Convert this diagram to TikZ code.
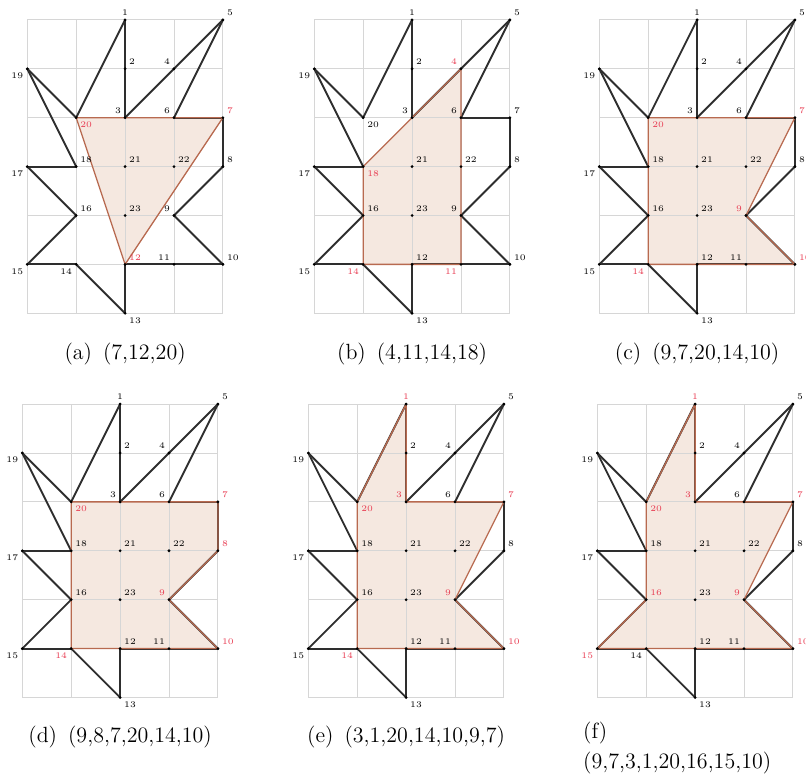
\documentclass[tikz,border=0pt]{standalone}
\usepackage{tikz}
\definecolor{gridgray}{RGB}{214,214,214}
\definecolor{cutfill}{RGB}{245,232,224}
\definecolor{cutline}{RGB}{184,106,80}
\definecolor{lblred}{RGB}{232,58,80}
\tikzset{
  gridln/.style={gridgray,line width=0.5pt},
  edge/.style={black!82,line width=1.1pt,line cap=round},
  cutarea/.style={fill=cutfill},
  cutedge/.style={draw=cutline,line width=0.75pt,line join=round},
  vtx/.style={circle,fill=black,inner sep=0pt,minimum size=1.8pt},
  lbl/.style={font=\fontsize{5}{6}\selectfont,inner sep=2.2pt},
  hl/.style={text=lblred},
  hilite/.style={lv#1/.style={hl}},
  captext/.style={font=\fontsize{12.8}{17.4}\selectfont,inner sep=0pt},
}
\newcommand{\leaf}[4]{% prefix, origin, sub-polygon, label tweaks
  \begin{scope}[shift={#2},hilite/.list={#3},#4]
    \foreach \i/\x/\y in {1/2/6,2/2/5,3/2/4,4/3/5,5/4/6,6/3/4,7/4/4,8/4/3,
      9/3/2,10/4/1,11/3/1,12/2/1,13/2/0,14/1/1,15/0/1,16/1/2,17/0/3,18/1/3,
      19/0/5,20/1/4,21/2/3,22/3/3,23/2/2}
      \coordinate (#1\i) at (\x,\y);
    % sub-polygon from its vertex list
    \foreach \k [count=\n] in {#3}{%
      \ifnum\n=1 \xdef\pth{(#1\k)}\else\xdef\pth{\pth--(#1\k)}\fi}
    \fill[cutarea] \pth -- cycle;
    \draw[gridln] (0,0) grid (4,6);
    \foreach \i [evaluate=\i as \j using {int(mod(\i,20)+1)}] in {1,...,20}
      \draw[edge] (#1\i) -- (#1\j);
    \draw[cutedge] \pth -- cycle;
    \foreach \i/\anc in {1/south,2/south west,3/south east,4/south east,
      5/south west,6/south east,7/south west,8/south west,9/south east,
      10/south west,11/south east,12/south west,13/north west,14/north east,
      15/north east,16/south west,17/north east,18/south west,19/north east,
      20/north west,21/south west,22/south west,23/south west}{
      \node[vtx] (#1d\i) at (#1\i) {};
      \node[lbl,anchor=\anc,lv\i/.try] (#1l\i) at (#1\i) {\i};
    }
  \end{scope}
}

\begin{document}
\begin{tikzpicture}
  \useasboundingbox (0,0) rectangle (16.483,15.951);
  \leaf{a}{(0.558,9.544)}{7,12,20}{}
  \leaf{b}{(6.427,9.544)}{4,11,14,18}{lv18/.append style={anchor=north west},lv11/.append style={anchor=north east}}
  \leaf{c}{(12.256,9.544)}{9,7,20,14,10}{}
  \leaf{d}{(0.456,1.687)}{9,8,7,20,14,10}{}
  \leaf{e}{(6.305,1.687)}{3,1,20,14,10,9,7}{}
  \leaf{f}{(12.215,1.687)}{9,7,3,1,20,16,15,10}{}
  % captions
  \node[captext] (capa) at (2.558,8.712) {(a)\enspace(7,12,20)};
  \node[captext] (capb) at (8.427,8.712) {(b)\enspace(4,11,14,18)};
  \node[captext] (capc) at (14.256,8.712) {(c)\enspace(9,7,20,14,10)};
  \node[captext] (capd) at (2.456,0.879) {(d)\enspace(9,8,7,20,14,10)};
  \node[captext] (cape) at (8.305,0.879) {(e)\enspace(3,1,20,14,10,9,7)};
  \node[captext,anchor=north west,align=left] (capf) at (11.92,1.186) {(f)\\(9,7,3,1,20,16,15,10)};
\end{tikzpicture}
\end{document}
